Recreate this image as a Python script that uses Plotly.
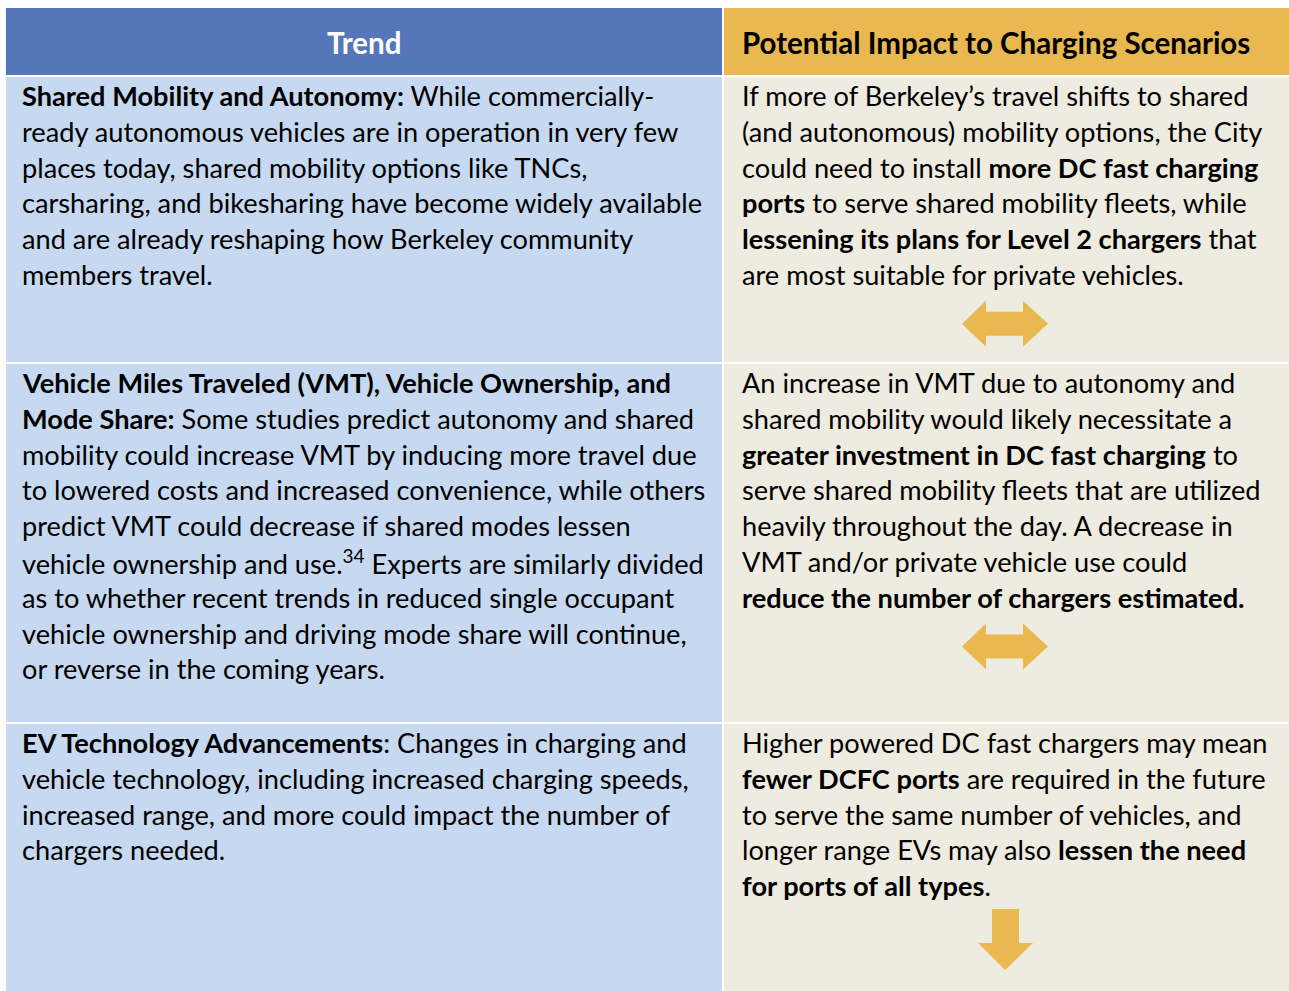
import plotly.graph_objects as go

# ---- data ----
headers = ["Trend", "Potential Impact to Charging Scenarios"]
trend_rows = [
    ["<b>Shared Mobility and Autonomy:</b> While commercially-",
     "ready autonomous vehicles are in operation in very few",
     "places today, shared mobility options like TNCs,",
     "carsharing, and bikesharing have become widely available",
     "and are already reshaping how Berkeley community",
     "members travel."],
    ["<b>Vehicle Miles Traveled (VMT), Vehicle Ownership, and</b>",
     "<b>Mode Share:</b> Some studies predict autonomy and shared",
     "mobility could increase VMT by inducing more travel due",
     "to lowered costs and increased convenience, while others",
     "predict VMT could decrease if shared modes lessen",
     "vehicle ownership and use.<sup>34</sup> Experts are similarly divided",
     "as to whether recent trends in reduced single occupant",
     "vehicle ownership and driving mode share will continue,",
     "or reverse in the coming years."],
    ["<b>EV Technology Advancements</b>: Changes in charging and",
     "vehicle technology, including increased charging speeds,",
     "increased range, and more could impact the number of",
     "chargers needed."],
]
impact_rows = [
    ["If more of Berkeley’s travel shifts to shared",
     "(and autonomous) mobility options, the City",
     "could need to install <b>more DC fast charging</b>",
     "<b>ports</b> to serve shared mobility fleets, while",
     "<b>lessening its plans for Level 2 chargers</b> that",
     "are most suitable for private vehicles."],
    ["An increase in VMT due to autonomy and",
     "shared mobility would likely necessitate a",
     "<b>greater investment in DC fast charging</b> to",
     "serve shared mobility fleets that are utilized",
     "heavily throughout the day. A decrease in",
     "VMT and/or private vehicle use could",
     "<b>reduce the number of chargers estimated.</b>"],
    ["Higher powered DC fast chargers may mean",
     "<b>fewer DCFC ports</b> are required in the future",
     "to serve the same number of vehicles, and",
     "longer range EVs may also <b>lessen the need</b>",
     "<b>for ports of all types</b>."],
]
impact_direction = ["both", "both", "down"]

# ---- layout / style ----
W, H = 1289, 991
FONT = "Lato"
FS = 27.2
LINE = 35.8
col_x = [(6, 722), (724, 1289)]
header_y = (8, 75)
row_y = [(77, 362), (364, 722), (724, 991)]
c_head = ["#5577B9", "#E9B850"]
c_body = ["#C6D9F0", "#EEEBE0"]
c_arrow = "#EAB850"

fig = go.Figure()
shapes = []
annotations = []

for ci, (x0, x1) in enumerate(col_x):
    shapes.append(dict(type="rect", x0=x0, x1=x1, y0=header_y[0], y1=header_y[1],
                       fillcolor=c_head[ci], line=dict(width=0), layer="below"))
    for (y0, y1) in row_y:
        shapes.append(dict(type="rect", x0=x0, x1=x1, y0=y0, y1=y1,
                           fillcolor=c_body[ci], line=dict(width=0), layer="below"))

hy = (header_y[0] + header_y[1]) / 2 + 1
annotations.append(dict(x=(col_x[0][0] + col_x[0][1]) / 2, y=hy, text="<b>" + headers[0] + "</b>",
                        showarrow=False, xanchor="center", yanchor="middle",
                        font=dict(family=FONT, size=29.5, color="white")))
annotations.append(dict(x=740, y=hy, text="<b>" + headers[1] + "</b>",
                        showarrow=False, xanchor="left", yanchor="middle",
                        font=dict(family=FONT, size=29.5, color="black")))

for ri, (y0, y1) in enumerate(row_y):
    for ci, lines in enumerate([trend_rows[ri], impact_rows[ri]]):
        tx = 20 if ci == 0 else 740
        for li, t in enumerate(lines):
            annotations.append(dict(x=tx, y=y0 + 18.5 + li * LINE, text=t, showarrow=False,
                                    xanchor="left", yanchor="middle",
                                    font=dict(family=FONT, size=FS, color="black")))


def arrow_path(kind, cx, cy):
    if kind == "both":
        pts = [(-43, 0), (-19, -23), (-19, -12), (18, -12), (18, -23), (43, 0),
               (18, 23), (18, 12), (-19, 12), (-19, 23)]
    else:
        pts = [(-13, -30), (14, -30), (14, 4), (28, 4), (0, 31), (-27, 4), (-13, 4)]
    return "M " + " L ".join(f"{cx + dx},{cy + dy}" for dx, dy in pts) + " Z"


arrow_gap = {"both": 13, "down": 17}
for ri, kind in enumerate(impact_direction):
    n = len(impact_rows[ri])
    cy = row_y[ri][0] + 19 + n * LINE + arrow_gap[kind]
    shapes.append(dict(type="path", path=arrow_path(kind, 1005, cy), fillcolor=c_arrow,
                       line=dict(width=0)))

fig.update_layout(
    width=W, height=H, margin=dict(l=0, r=0, t=0, b=0),
    paper_bgcolor="white", plot_bgcolor="white",
    xaxis=dict(range=[0, W], visible=False, fixedrange=True),
    yaxis=dict(range=[H, 0], visible=False, fixedrange=True),
    shapes=shapes, annotations=annotations, showlegend=False,
)
fig.write_html("out.html", config={"displayModeBar": False},
               post_script="document.body.style.margin='0';document.body.style.overflow='hidden';")
